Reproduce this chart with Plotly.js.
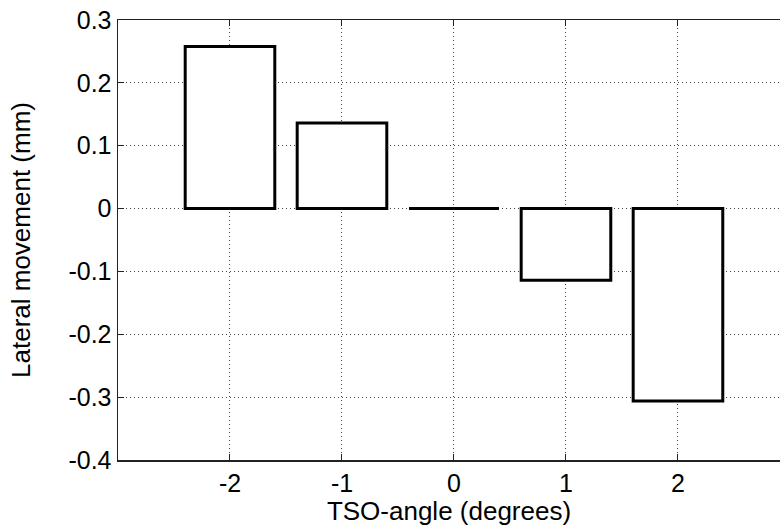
<!DOCTYPE html>
<html>
<head>
<meta charset="utf-8">
<script src="https://cdn.plot.ly/plotly-3.0.1.min.js"></script>
<style>html,body{margin:0;padding:0;background:#fff;}#chart{width:780px;height:527px;}</style>
</head>
<body>
<div id="chart"></div>
<script>
const angles = [-2, -1, 0, 1, 2];
const movement = [0.258, 0.136, 0.0, -0.114, -0.306];
const xTicks = [-2, -1, 0, 1, 2];
const xTickText = ['-2', '-1', '0', '1', '2'];
const yTicks = [-0.4, -0.3, -0.2, -0.1, 0, 0.1, 0.2, 0.3];
const yTickText = ['-0.4', '-0.3', '-0.2', '-0.1', '0', '0.1', '0.2', '0.3'];
const barWidth = 0.8;

// zero-valued bars collapse to a flat line in the original
const zx = [], zy = [];
angles.forEach((a, i) => {
  if (movement[i] === 0) { zx.push(a - barWidth / 2, a + barWidth / 2, null); zy.push(0, 0, null); }
});

const font = {family: 'Liberation Sans, Arial, sans-serif', color: '#000'};

const traces = [
  {type: 'bar', x: angles, y: movement, width: barWidth,
   marker: {color: '#ffffff', line: {color: '#000', width: 3}},
   hoverinfo: 'x+y', showlegend: false},
  {type: 'scatter', mode: 'lines', x: zx, y: zy,
   line: {color: '#000', width: 3}, showlegend: false, hoverinfo: 'skip'}
];

const layout = {
  width: 780, height: 527,
  margin: {l: 118, r: 0, t: 20, b: 67},
  paper_bgcolor: '#fff', plot_bgcolor: '#fff',
  showlegend: false,
  xaxis: {
    range: [-3, 2.911], tickvals: xTicks, ticktext: xTickText,
    showgrid: true, gridcolor: '#444', griddash: '1px,3px', gridwidth: 1,
    zeroline: false, showline: true, linecolor: '#222', linewidth: 1.5, mirror: 'ticks',
    ticks: 'inside', ticklen: 6, tickcolor: '#222', tickwidth: 1,
    tickfont: Object.assign({size: 25}, font),
    title: {text: 'TSO-angle (degrees)', font: Object.assign({size: 26}, font), standoff: 2}
  },
  yaxis: {
    range: [-0.4, 0.3], tickvals: yTicks, ticktext: yTickText,
    showgrid: true, gridcolor: '#444', griddash: '1px,3px', gridwidth: 1,
    zeroline: false, showline: true, linecolor: '#222', linewidth: 1.5,
    ticks: 'inside', ticklen: 6, tickcolor: '#222', tickwidth: 1,
    tickfont: Object.assign({size: 25}, font),
    title: {text: 'Lateral movement (mm)', font: Object.assign({size: 26}, font), standoff: 30}
  },
  bargap: 0
};

Plotly.newPlot('chart', traces, layout, {staticPlot: true, displayModeBar: false});
</script>
</body>
</html>
